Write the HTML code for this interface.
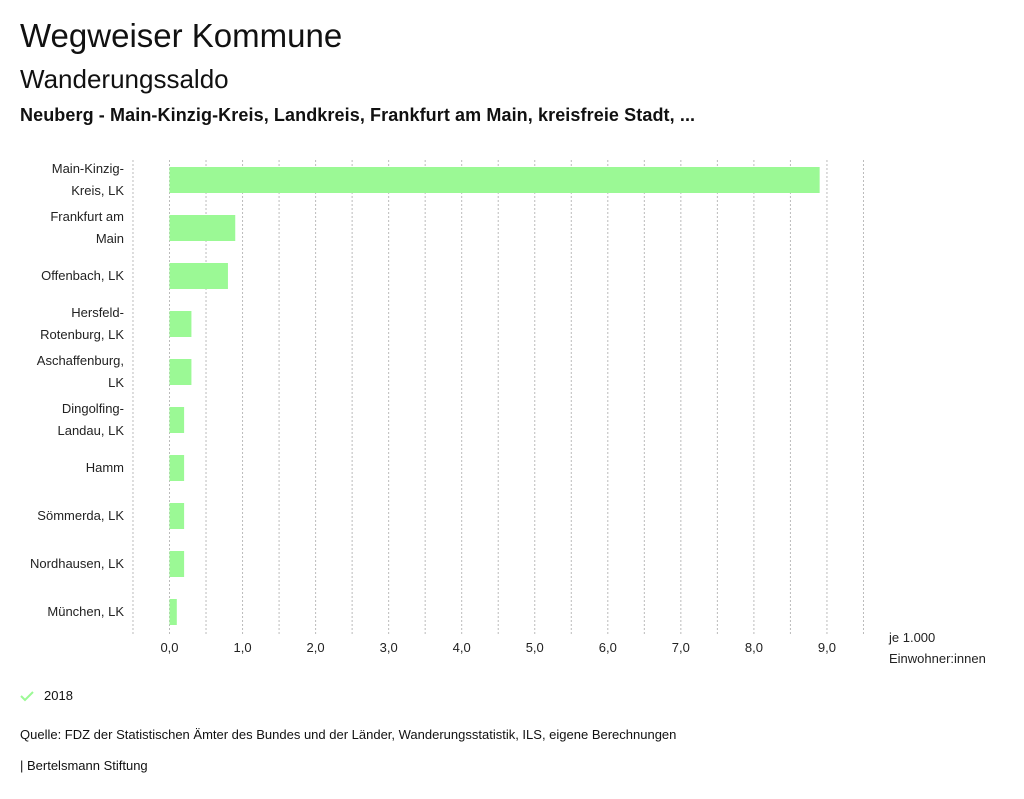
<!DOCTYPE html>
<html><head><meta charset="utf-8"><style>
body{margin:0;width:1024px;height:799px;background:#fff;font-family:"Liberation Sans",sans-serif;color:#111;overflow:hidden;position:relative}
.t{position:absolute;white-space:nowrap}
</style></head><body>
<div class="t" style="left:20px;top:17px;font-size:33px">Wegweiser Kommune</div>
<div class="t" style="left:20px;top:64px;font-size:26px">Wanderungssaldo</div>
<div class="t" style="left:20px;top:105px;font-size:18px;font-weight:bold;letter-spacing:0.1px">Neuberg - Main-Kinzig-Kreis, Landkreis, Frankfurt am Main, kreisfreie Stadt, ...</div>
<svg id="chart" width="1024" height="799" style="position:absolute;left:0;top:0"></svg>
<svg class="t" style="left:20px;top:690px" width="14" height="12"><path d="M1 6 L5 10 L13 2" stroke="#9bf995" stroke-width="2" fill="none"/></svg>
<div class="t" style="left:44px;top:688px;font-size:13px">2018</div>
<div class="t" style="left:20px;top:727px;font-size:13px">Quelle: FDZ der Statistischen Ämter des Bundes und der Länder, Wanderungsstatistik, ILS, eigene Berechnungen</div>
<div class="t" style="left:20px;top:758px;font-size:13px">| Bertelsmann Stiftung</div>
<script>
const categories=[["Main-Kinzig-","Kreis, LK"],["Frankfurt am","Main"],["Offenbach, LK"],["Hersfeld-","Rotenburg, LK"],["Aschaffenburg,","LK"],["Dingolfing-","Landau, LK"],["Hamm"],["Sömmerda, LK"],["Nordhausen, LK"],["München, LK"]];
const values=[8.9,0.9,0.8,0.3,0.3,0.2,0.2,0.2,0.2,0.1];
const ticks=[0,1,2,3,4,5,6,7,8,9];
const tickLabels=["0,0","1,0","2,0","3,0","4,0","5,0","6,0","7,0","8,0","9,0"];
const NS="http://www.w3.org/2000/svg";
const svg=document.getElementById('chart');
const x=v=>169.5+v*73.05;
const y=i=>180+i*48;
function mk(t,a){const e=document.createElementNS(NS,t);for(const k in a)e.setAttribute(k,a[k]);svg.appendChild(e);return e;}
for(let g=-0.5;g<=9.5;g+=0.5){
 const l=mk('line',{x1:x(g),x2:x(g),y1:160,y2:635,stroke:'#bbb','stroke-dasharray':'2,2','stroke-width':1});
 
 
}
values.forEach((v,i)=>{
 const r=mk('rect',{x:x(0),y:y(i)-13,width:x(v)-x(0),height:26,fill:'#9bf995'});
 
 
 const lines=categories[i];
 lines.forEach((s,j)=>{
  const t=mk('text',{x:124,y:y(i)+4+(j-(lines.length-1)/2)*22,'text-anchor':'end','font-size':13,fill:'#222'});
  t.textContent=s;
  
  
 });
});
ticks.forEach((v,i)=>{
 const t=mk('text',{x:x(v),y:652,'text-anchor':'middle','font-size':13,fill:'#222'});
 t.textContent=tickLabels[i];
 
 
});
[["je 1.000",642],["Einwohner:innen",663]].forEach(a=>{
 const t=mk('text',{x:889,y:a[1],'font-size':13,fill:'#222'});
 t.textContent=a[0];
 
 
});
</script>
</body></html>
